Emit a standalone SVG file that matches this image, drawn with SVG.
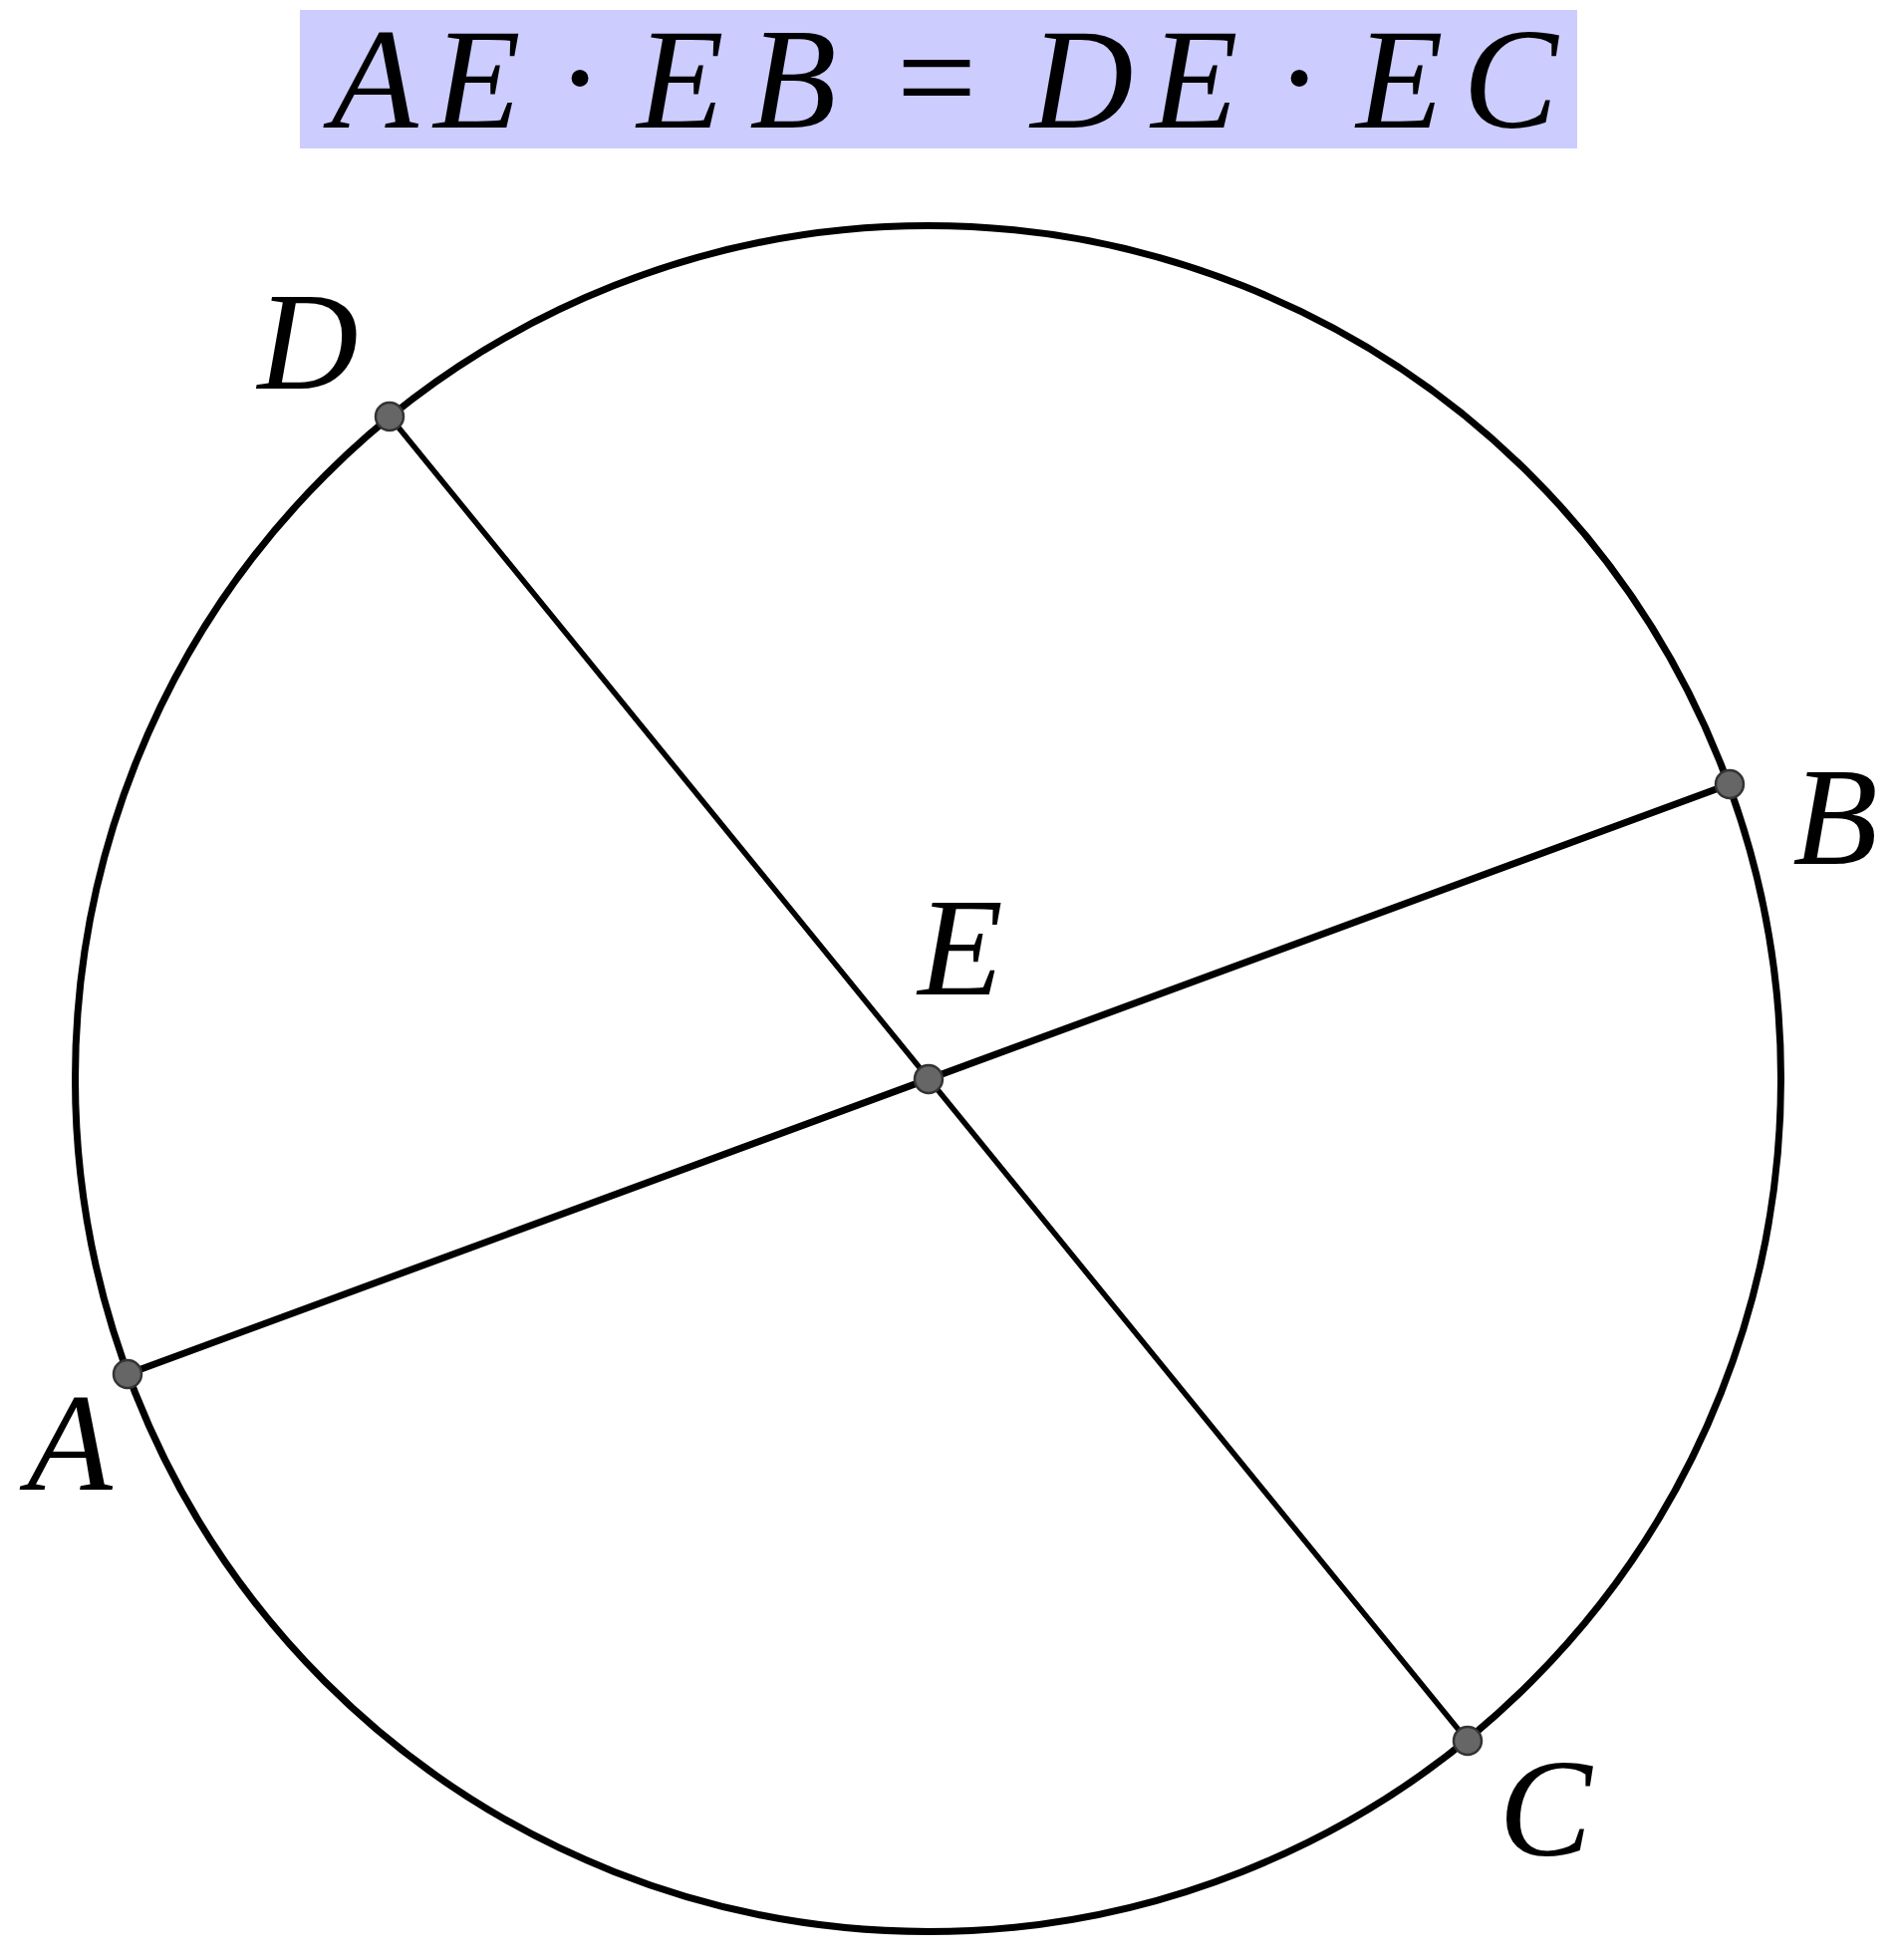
<svg xmlns="http://www.w3.org/2000/svg" width="1905" height="1967" viewBox="0 0 1905 1967">
<style>
.m{font-family:"Liberation Serif","Times New Roman",serif;font-style:italic;fill:#000;text-anchor:middle}
.u{font-family:"Liberation Serif","Times New Roman",serif;fill:#000;text-anchor:middle}
.pt{fill:#666;stroke:#333;stroke-width:2.5}
</style>
<rect width="1905" height="1967" fill="#fff"/>
<g id="title">
<rect x="301" y="10" width="1282" height="139" fill="#ccccff"/>
<text class="m" font-size="143" y="128"><tspan x="376">A</tspan><tspan x="479">E</tspan><tspan x="683">E</tspan><tspan x="796">B</tspan><tspan x="1086">D</tspan><tspan x="1199">E</tspan><tspan x="1405">E</tspan><tspan x="1516">C</tspan></text>
<text class="u" font-size="143" y="126"><tspan x="582">·</tspan><tspan x="940">=</tspan><tspan x="1304">·</tspan></text>
</g>
<g id="circle"><circle cx="931.5" cy="1082.5" r="856" fill="none" stroke="#000" stroke-width="7"/></g>
<g id="connectors" stroke="#000" stroke-linecap="round">
<line x1="128" y1="1379" x2="1736" y2="787" stroke-width="7"/>
<line x1="391" y1="418" x2="1473" y2="1747" stroke-width="5.5"/>
</g>
<g id="A"><circle class="pt" cx="128" cy="1379" r="14"/><text class="m" font-size="140" x="70" y="1495">A</text></g>
<g id="B"><circle class="pt" cx="1736" cy="787" r="14"/><text class="m" font-size="140" x="1842" y="867">B</text></g>
<g id="C"><circle class="pt" cx="1473" cy="1747" r="14"/><text class="m" font-size="140" x="1551" y="1862">C</text></g>
<g id="D"><circle class="pt" cx="391" cy="418" r="14"/><text class="m" font-size="140" x="309" y="390">D</text></g>
<g id="E"><circle class="pt" cx="932" cy="1083" r="14"/><text class="m" font-size="140" x="964" y="998">E</text></g>
</svg>
